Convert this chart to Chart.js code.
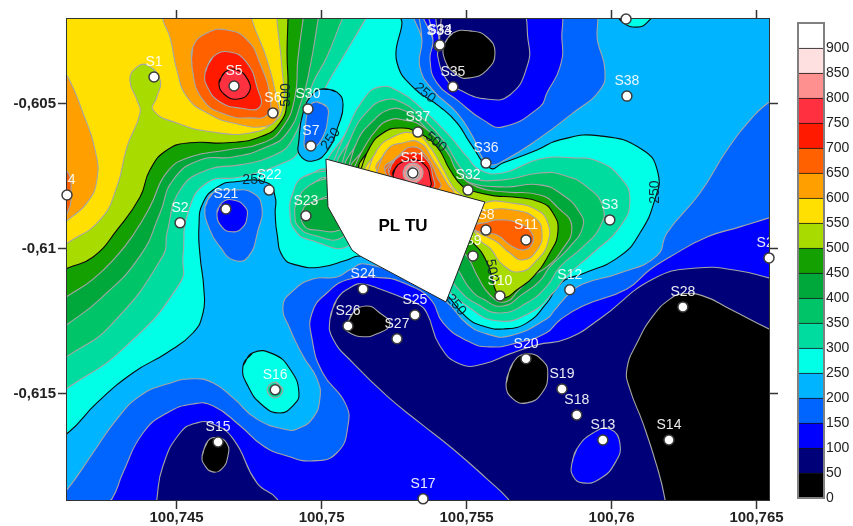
<!DOCTYPE html>
<html>
<head>
<meta charset="utf-8">
<title>Peta kontur PLTU</title>
<script src="https://cdn.jsdelivr.net/npm/chart.js@4/dist/chart.umd.min.js"></script>
<style>
  html, body { margin: 0; background: #fff; }
  canvas { position: absolute; top: 0; }
  #map { left: 0; }
  #scaleBar { left: 780px; }
</style>
</head>
<body>
<canvas id="map" width="853" height="526"></canvas>
<canvas id="scaleBar" width="73" height="526"></canvas>
<script>
// all contour and station positions are in 1e-5 degree: [east of 100.7, south of 0.6]
const xTicks = [100.745, 100.75, 100.755, 100.76, 100.765];
const yTicks = [-0.605, -0.61, -0.615];

const stationNames = ['S1','S2','S3','S4','S5','S6','S7','S8','S9','S10','S11','S12','S13','S14','S15','S16','S17','S18','S19','S20','S21','S22','S23','S24','S25','S26','S27','S28','S29','S30','S31','S32','S33','S34','S35','S36','S37','S38','S39'];
const stationPos = [[4422,407],[4512,910],[5994,900],[4122,814],[4698,438],[4832,531],[4963,645],[5567,935],[5522,1024],[5615,1162],[5705,969],[5856,1141],[5970,1659],[6198,1659],[4643,1666],[4840,1486],[5350,1862],[5880,1573],[5829,1483],[5705,1379],[4670,862],[4819,797],[4946,886],[5143,1138],[5322,1228],[5091,1266],[5260,1310],[6246,1200],[6543,1031],[4953,517],[5315,738],[5505,797],[5405,300],[5408,297],[5453,441],[5567,704],[5332,597],[6053,473],[6050,207]];

const levels = [0,50,100,150,200,250,300,350,400,450,500,550,600,650,700,750,800,850,900];
const bandColors = ['#000000','#000078','#0000ff','#0064ff','#00b4ff','#00ffe6','#00dca0','#00c468','#00a83c','#14a000','#a8dc00','#ffe000','#ffa000','#ff6000','#ff1a00','#ff3040','#ff9090','#ffe0e0','#ffffff'];
const bandSizes = [50,50,50,50,50,50,50,50,50,50,50,50,50,50,50,50,50,50,50];

const contourTexts = ['250','250','500','500','250','250','250','500'];
const contourPos = [[5356,462],[5032,621],[5394,631],[4877,469],[4767,762],[6149,804],[5463,1193],[5587,1076]];
const contourAngles = [40,-55,40,-90,0,-90,50,80];

const pltu = [[5015,690],[5563,838],[5429,1183],[5132,1024],[5105,1004],[5022,855]];
const pltuText = 'PL TU';
const pltuTextPos = [5281,921];

const baseArea = [[4000,100],[6700,100],[6700,2000],[4000,2000]];
const west250 = [[4098,1635],[4125,1635],[4225,1531],[4350,1427],[4467,1358],[4556,1290],[4591,1221],[4594,1138],[4581,1025],[4577,924],[4591,841],[4640,787],[4695,769],[4812,772],[4840,821],[4840,876],[4846,945],[4867,1028],[4915,1056],[4994,1063],[5088,1038],[5132,1025],[5339,1073],[5426,1152],[5502,1238],[5557,1266],[5625,1276],[5708,1255],[5777,1186],[5804,1145],[5839,1107],[5901,1086],[6029,1025],[6098,945],[6149,831],[6160,738],[6108,659],[5960,610],[5821,624],[5743,659],[5625,704],[5581,721],[5512,634],[5467,565],[5408,510],[5315,442],[5260,357],[5246,193],[4098,193]];
const s7Hole = [[5004,448],[5053,459],[5074,504],[5056,579],[5022,659],[4970,697],[4925,676],[4922,624],[4936,531],[4967,469]];
const s7Blue = [[4984,493],[5018,510],[5022,545],[5004,614],[4970,652],[4943,652],[4943,600],[4950,531],[4960,504]];
const topPatch = [[6012,176],[6036,217],[6088,235],[6125,217],[6146,176]];
const s16Cyan = [[4729,1403],[4763,1358],[4832,1362],[4891,1414],[4922,1497],[4901,1541],[4856,1566],[4798,1541],[4746,1473]];
const s16Teal = [[4840,1459],[4867,1486],[4840,1514],[4812,1486]];
const south200 = [[4098,1848],[4125,1827],[4212,1703],[4294,1587],[4374,1507],[4467,1466],[4556,1448],[4625,1462],[4695,1514],[4777,1587],[4881,1624],[4915,1621],[4967,1587],[4994,1517],[4984,1448],[4936,1369],[4891,1276],[4867,1197],[4901,1145],[4970,1104],[5053,1097],[5098,1072],[5150,1052],[5305,1107],[5426,1179],[5502,1259],[5570,1293],[5649,1300],[5777,1241],[5804,1210],[5856,1152],[5901,1121],[6029,1083],[6156,1024],[6191,945],[6305,807],[6398,659],[6487,545],[6543,493],[6615,435],[6615,1900],[4098,1900]];
const north200 = [[5332,176],[5346,279],[5339,373],[5384,452],[5467,531],[5522,614],[5553,683],[5581,710],[5632,693],[5743,624],[5867,531],[5960,452],[5977,383],[5953,290],[5925,176]];
const s21Mid = [[4598,855],[4625,807],[4695,797],[4763,807],[4794,855],[4781,935],[4746,1028],[4695,1038],[4650,993],[4615,935]];
const s21Deep = [[4639,876],[4656,841],[4695,831],[4736,855],[4743,890],[4725,928],[4691,941],[4656,924]];
const south150 = [[4236,1900],[4277,1862],[4315,1772],[4384,1635],[4467,1566],[4556,1535],[4625,1541],[4719,1610],[4798,1679],[4881,1714],[4970,1731],[5053,1703],[5091,1610],[5081,1531],[5004,1428],[4967,1310],[4967,1221],[5018,1152],[5098,1104],[5212,1100],[5281,1117],[5374,1172],[5419,1255],[5502,1317],[5581,1338],[5674,1324],[5774,1290],[5822,1245],[5901,1197],[6053,1138],[6132,1072],[6201,1028],[6329,959],[6443,924],[6543,893],[6615,869],[6615,1900]];
const north150 = [[5363,176],[5384,279],[5374,348],[5398,428],[5467,486],[5557,555],[5625,579],[5753,510],[5777,462],[5822,373],[5829,279],[5805,176]];
const s13Deep = [[5863,1741],[5880,1690],[5936,1635],[5994,1621],[6029,1672],[6012,1738],[5960,1793],[5901,1807],[5867,1783]];
const north100 = [[5415,176],[5405,300],[5401,338],[5432,417],[5477,452],[5570,483],[5649,469],[5708,373],[5712,279],[5677,176]];
const s15Navy = [[4432,1900],[4432,1862],[4453,1748],[4512,1635],[4570,1600],[4625,1604],[4695,1655],[4777,1807],[4846,1862],[4846,1900]];
const main100 = [[5029,1241],[5053,1173],[5108,1128],[5143,1121],[5201,1138],[5281,1169],[5332,1190],[5363,1221],[5408,1334],[5477,1397],[5557,1397],[5649,1362],[5743,1331],[5846,1310],[5960,1241],[6143,1104],[6294,1066],[6443,1076],[6543,1100],[6615,1114],[6615,1900],[5667,1900],[5643,1862],[5570,1793],[5453,1690],[5339,1600],[5225,1507],[5108,1393],[5039,1310]];
const s26Black = [[5084,1273],[5108,1221],[5156,1197],[5201,1221],[5236,1259],[5191,1293],[5143,1303],[5098,1290]];
const s20Black = [[5636,1466],[5660,1393],[5708,1362],[5763,1386],[5780,1431],[5760,1497],[5708,1531],[5660,1517]];
const s34Black = [[5425,290],[5453,255],[5512,248],[5570,269],[5598,324],[5570,383],[5512,410],[5467,400],[5425,348]];
const s15Black = [[4588,1714],[4608,1662],[4643,1652],[4674,1672],[4677,1714],[4656,1759],[4625,1769],[4598,1748]];
const eastBlack = [[6184,1900],[6184,1862],[6156,1748],[6108,1600],[6063,1483],[6053,1414],[6088,1324],[6143,1231],[6201,1173],[6246,1155],[6315,1162],[6408,1207],[6543,1276],[6615,1307],[6615,1900]];
const west300 = [[4098,1497],[4125,1479],[4315,1345],[4512,1117],[4522,1024],[4539,876],[4605,772],[4719,752],[4867,704],[4925,659],[4960,548],[5012,445],[5074,338],[5150,210],[5167,176],[4098,176]];
const west350 = [[4098,1386],[4125,1369],[4270,1266],[4453,1024],[4467,945],[4512,797],[4605,728],[4719,710],[4822,683],[4898,624],[4970,428],[5018,338],[5070,210],[5088,176],[4098,176]];
const west400 = [[4098,1276],[4125,1259],[4236,1173],[4374,1024],[4443,876],[4488,762],[4581,693],[4695,683],[4812,648],[4881,600],[4932,486],[4960,373],[4988,210],[4994,176],[4098,176]];
const west450 = [[4098,1179],[4125,1162],[4212,1104],[4294,1024],[4350,952],[4408,855],[4467,735],[4546,683],[4674,659],[4798,634],[4867,579],[4908,476],[4918,348],[4936,210],[4943,176],[4098,176]];
const west500 = [[4098,1079],[4125,1066],[4212,1028],[4294,935],[4374,821],[4408,728],[4467,659],[4546,634],[4674,634],[4787,614],[4856,566],[4881,486],[4881,314],[4884,210],[4884,176],[4098,176]];
const west550 = [[4098,993],[4125,979],[4236,900],[4294,786],[4329,648],[4374,531],[4363,486],[4339,417],[4363,373],[4398,366],[4443,417],[4432,476],[4419,521],[4501,566],[4625,597],[4753,600],[4832,566],[4867,510],[4863,373],[4846,210],[4846,176],[4098,176]];
const s4Orange = [[4098,383],[4125,407],[4177,531],[4219,659],[4225,762],[4191,841],[4125,900],[4098,921]];
const s4Red = [[4098,728],[4125,735],[4136,797],[4125,872],[4098,886]];
const s5at600 = [[4453,176],[4453,210],[4477,269],[4501,383],[4536,476],[4605,531],[4695,566],[4812,576],[4850,538],[4846,486],[4812,348],[4760,210],[4760,176]];
const s5at650 = [[4553,373],[4556,304],[4605,255],[4674,245],[4743,279],[4787,359],[4822,476],[4812,538],[4753,548],[4674,538],[4591,486]];
const s5at700 = [[4598,393],[4625,338],[4684,321],[4743,359],[4777,441],[4787,510],[4719,514],[4650,493],[4608,445]];
const s5at750 = [[4646,428],[4667,390],[4708,383],[4746,417],[4750,459],[4712,483],[4667,469]];
const s23at300 = [[5029,728],[4936,752],[4901,807],[4891,876],[4908,935],[4960,969],[5098,986],[5167,831]];
const s23at350 = [[5022,755],[4960,779],[4918,831],[4908,890],[4925,928],[4970,952],[5074,959],[5167,831]];
const s23at400 = [[5046,821],[4960,841],[4932,876],[4943,924],[4984,935],[5063,935],[5132,883]];
const mid300 = [[5029,728],[5088,590],[5143,486],[5201,441],[5270,459],[5339,510],[5432,600],[5502,683],[5546,728],[5625,738],[5753,690],[5867,686],[5950,697],[6029,752],[6063,831],[6029,924],[5936,1014],[5846,1093],[5798,1152],[5718,1221],[5605,1248],[5502,1197],[5425,1124],[5270,866]];
const mid350 = [[5063,728],[5105,607],[5156,528],[5218,486],[5281,497],[5339,541],[5419,624],[5477,717],[5518,755],[5625,762],[5753,738],[5832,745],[5915,786],[5970,855],[5960,924],[5901,993],[5822,1062],[5777,1128],[5708,1186],[5615,1221],[5536,1190],[5477,1145],[5425,1072],[5270,866]];
const mid400 = [[5088,735],[5125,624],[5174,562],[5229,521],[5281,521],[5339,562],[5398,634],[5453,728],[5505,769],[5625,786],[5753,779],[5832,814],[5891,876],[5901,924],[5856,993],[5787,1062],[5753,1110],[5694,1155],[5625,1197],[5557,1173],[5512,1138],[5470,1072],[5425,1021],[5270,866]];
const mid450 = [[5105,735],[5146,652],[5194,583],[5236,555],[5281,555],[5350,579],[5432,665],[5470,735],[5536,786],[5625,803],[5753,814],[5812,855],[5863,924],[5822,1014],[5777,1062],[5729,1093],[5684,1138],[5632,1183],[5581,1159],[5539,1097],[5505,1031],[5460,986],[5270,866]];
const mid500 = [[5132,735],[5167,648],[5212,600],[5270,583],[5329,597],[5398,648],[5443,728],[5488,786],[5529,803],[5598,817],[5660,821],[5753,838],[5798,876],[5815,941],[5787,1014],[5729,1097],[5674,1141],[5632,1169],[5605,1152],[5587,1097],[5570,1045],[5529,986],[5477,952],[5270,866]];
const s31at550 = [[5156,745],[5191,659],[5246,614],[5315,600],[5363,634],[5415,717],[5453,786],[5488,831],[5339,883]];
const s11at550 = [[5512,883],[5563,841],[5649,841],[5743,866],[5780,910],[5780,979],[5743,1038],[5684,1079],[5625,1055],[5581,997],[5546,969]];
const s31at600 = [[5191,735],[5225,659],[5281,634],[5339,634],[5384,693],[5432,773],[5453,814],[5339,883]];
const s11at600 = [[5512,883],[5570,866],[5660,866],[5736,893],[5760,945],[5743,1004],[5694,1038],[5649,1014],[5605,976],[5557,952],[5529,935]];
const s31at650 = [[5218,728],[5260,683],[5315,648],[5363,683],[5398,752],[5408,790],[5305,831]];
const s11at650 = [[5512,917],[5563,910],[5605,900],[5677,910],[5725,945],[5725,986],[5694,1004],[5649,986],[5605,952],[5553,945]];
const s31at700 = [[5232,738],[5253,693],[5315,669],[5363,693],[5384,752],[5384,790],[5305,814]];
const s31at750 = [[5246,745],[5263,710],[5315,693],[5356,710],[5374,752],[5370,790],[5288,804]];
const s31at800 = [[5281,738],[5291,714],[5315,704],[5339,714],[5350,738],[5339,762],[5315,773],[5291,762]];
const s31at850 = [[5291,738],[5315,714],[5339,738],[5315,762]];

const GREY = '#a6a6a6', BLACK = '#0a0a0a';
// painted in this order: [outline, band lower value, line colour]
const layers = [
  [baseArea, 200, null],
  [west250, 250, BLACK], [south200, 150, GREY], [south150, 100, GREY], [s15Navy, 50, GREY], [main100, 50, GREY],
  [s15Black, 0, GREY], [s26Black, 0, GREY], [s20Black, 0, GREY], [eastBlack, 0, GREY], [s13Deep, 100, GREY],
  [north200, 150, GREY], [north150, 100, GREY], [north100, 50, GREY], [s34Black, 0, GREY],
  [s21Mid, 150, GREY], [s21Deep, 100, GREY], [topPatch, 250, BLACK], [s16Cyan, 250, BLACK], [s16Teal, 300, GREY],
  [west300, 300, GREY], [west350, 350, GREY], [west400, 400, GREY], [west450, 450, GREY], [west500, 500, BLACK], [west550, 550, GREY],
  [s4Orange, 600, GREY], [s4Red, 650, GREY], [s5at600, 600, GREY], [s5at650, 650, GREY], [s5at700, 700, GREY], [s5at750, 750, BLACK],
  [s7Hole, 200, BLACK], [s7Blue, 150, GREY],
  [s23at300, 300, GREY], [s23at350, 350, GREY], [s23at400, 400, GREY],
  [mid300, 300, GREY], [mid350, 350, GREY], [mid400, 400, GREY], [mid450, 450, GREY], [mid500, 500, BLACK],
  [s31at550, 550, GREY], [s11at550, 550, GREY], [s31at600, 600, GREY], [s11at600, 600, GREY], [s31at650, 650, GREY], [s11at650, 650, GREY],
  [s31at700, 700, GREY], [s31at750, 750, BLACK], [s31at800, 800, GREY], [s31at850, 850, GREY]
];

const toPoint = ([a, b]) => ({ x: 100.7 + a / 1e5, y: -0.6 - b / 1e5 });
const commaLabel = v => String(v).replace('.', ',');

const polygonDatasets = layers.map(([outline, band, line]) => ({
  type: 'line',
  polygon: true,
  // first two points repeated so the smooth curve closes on itself
  data: [...outline, outline[0], outline[1]].map(toPoint),
  backgroundColor: bandColors[levels.indexOf(band)],
  borderColor: line || 'transparent',
  borderWidth: line ? 1.1 : 0,
  tension: outline === baseArea ? 0 : 0.5,
  capBezierPoints: false,
  fill: false,
  pointRadius: 0
}));

const allDatasets = [
  ...polygonDatasets,
  {
    type: 'scatter',
    stations: true,
    data: stationPos.map(toPoint),
    pointRadius: 5,
    pointBackgroundColor: '#fff',
    pointBorderColor: '#3c3c3c',
    pointBorderWidth: 1.5,
    clip: false
  },
  {
    type: 'line',
    polygon: true,
    isPltu: true,
    data: [...pltu, pltu[0]].map(toPoint),
    backgroundColor: '#fff',
    borderColor: '#222',
    borderWidth: 1,
    tension: 0,
    fill: false,
    pointRadius: 0
  }
];
allDatasets.forEach((d, i) => { d.order = allDatasets.length - i; });

const mapPainter = {
  id: 'mapPainter',
  beforeDatasetDraw(chart, args) {
    const ds = chart.data.datasets[args.index];
    if (!ds.polygon) return;
    const { ctx, chartArea } = chart;
    const line = args.meta.dataset;
    line.updateControlPoints(chartArea, 'x');
    ctx.save();
    ctx.beginPath();
    ctx.rect(chartArea.left, chartArea.top, chartArea.width, chartArea.height);
    ctx.clip();
    ctx.beginPath();
    line.path(ctx);
    ctx.closePath();
    ctx.fillStyle = ds.backgroundColor;
    ctx.fill();
    ctx.restore();
  },
  afterDatasetDraw(chart, args) {
    const ds = chart.data.datasets[args.index];
    const { ctx, chartArea, scales } = chart;
    if (ds.stations) {
      ctx.save();
      ctx.beginPath();
      ctx.rect(chartArea.left, chartArea.top, chartArea.width, chartArea.height);
      ctx.clip();
      ctx.textAlign = 'center';
      ctx.textBaseline = 'middle';
      // contour labels
      ctx.fillStyle = '#0b2c38';
      ctx.font = '14px "Liberation Sans", sans-serif';
      contourTexts.forEach((t, i) => {
        const p = toPoint(contourPos[i]);
        ctx.save();
        ctx.translate(scales.x.getPixelForValue(p.x), scales.y.getPixelForValue(p.y));
        ctx.rotate(contourAngles[i] * Math.PI / 180);
        ctx.fillText(t, 0, 0);
        ctx.restore();
      });
      // station names
      ctx.fillStyle = 'rgba(255,255,255,0.92)';
      ctx.font = '14px "Liberation Sans", sans-serif';
      args.meta.data.forEach((el, i) => {
        ctx.fillText(stationNames[i], el.x, el.y - 15);
      });
      ctx.restore();
    }
    if (ds.isPltu) {
      const p = toPoint(pltuTextPos);
      ctx.save();
      ctx.fillStyle = '#000';
      ctx.font = 'bold 17px "Liberation Sans", sans-serif';
      ctx.textAlign = 'center';
      ctx.textBaseline = 'middle';
      ctx.fillText(pltuText, scales.x.getPixelForValue(p.x), scales.y.getPixelForValue(p.y));
      ctx.restore();
    }
  }
};

const axisBits = {
  type: 'linear',
  z: 1,
  border: { color: '#333', width: 2 },
  grid: { drawOnChartArea: false, color: '#333', tickLength: 9, tickWidth: 1.5 }
};
const tickFont = { family: '"Liberation Sans", sans-serif', size: 15, weight: 'bold' };
const xRange = { min: 100.74122, max: 100.76543 };
const yRange = { min: -0.61866, max: -0.60207 };
const setTicks = values => scale => { scale.ticks = values.map(value => ({ value })); };

new Chart(document.getElementById('map'), {
  type: 'scatter',
  data: { datasets: allDatasets },
  options: {
    responsive: false,
    animation: false,
    events: [],
    layout: { padding: 0 },
    plugins: { legend: { display: false }, tooltip: { enabled: false } },
    scales: {
      x: { ...axisBits, ...xRange, position: 'bottom', afterBuildTicks: setTicks(xTicks),
        afterFit: s => { s.height = 26; },
        ticks: { autoSkip: false, maxRotation: 0, padding: 0, color: '#222', font: tickFont, callback: commaLabel } },
      xTop: { ...axisBits, ...xRange, axis: 'x', position: 'top', afterBuildTicks: setTicks(xTicks),
        afterFit: s => { s.height = 19; }, ticks: { display: false } },
      y: { ...axisBits, ...yRange, position: 'left', afterBuildTicks: setTicks(yTicks),
        afterFit: s => { s.width = 67; },
        ticks: { autoSkip: false, padding: 2, color: '#222', font: tickFont, callback: commaLabel } },
      yRight: { ...axisBits, ...yRange, axis: 'y', position: 'right', afterBuildTicks: setTicks(yTicks),
        afterFit: s => { s.width = 84; }, ticks: { display: false } }
    }
  },
  plugins: [mapPainter]
});

// colour scale on the right
const barFrame = {
  id: 'barFrame',
  afterDatasetsDraw(chart) {
    const { ctx, chartArea: a } = chart;
    ctx.save();
    ctx.strokeStyle = '#808080';
    ctx.lineWidth = 2;
    ctx.strokeRect(a.left, a.top, a.width, a.height);
    ctx.restore();
  }
};

new Chart(document.getElementById('scaleBar'), {
  type: 'bar',
  data: {
    labels: [''],
    datasets: bandSizes.map((size, i) => ({
      data: [size],
      backgroundColor: bandColors[i],
      borderColor: '#141414',
      borderWidth: { top: 1.2, bottom: 0, left: 0, right: 0 },
      borderSkipped: false,
      barPercentage: 1,
      categoryPercentage: 1
    }))
  },
  options: {
    responsive: false,
    animation: false,
    events: [],
    layout: { padding: { left: 18, top: 23, bottom: 28, right: 0 } },
    plugins: { legend: { display: false }, tooltip: { enabled: false } },
    scales: {
      x: { stacked: true, display: false },
      y: {
        stacked: true,
        position: 'right',
        min: 0,
        max: 950,
        afterBuildTicks: setTicks(levels),
        afterFit: s => { s.width = 29; },
        border: { display: false },
        grid: { display: false, drawTicks: false, tickLength: 0 },
        ticks: {
          autoSkip: false,
          padding: 2,
          color: '#222',
          font: { family: '"Liberation Sans", sans-serif', size: 14 }
        }
      }
    }
  },
  plugins: [barFrame]
});
</script>
</body>
</html>
